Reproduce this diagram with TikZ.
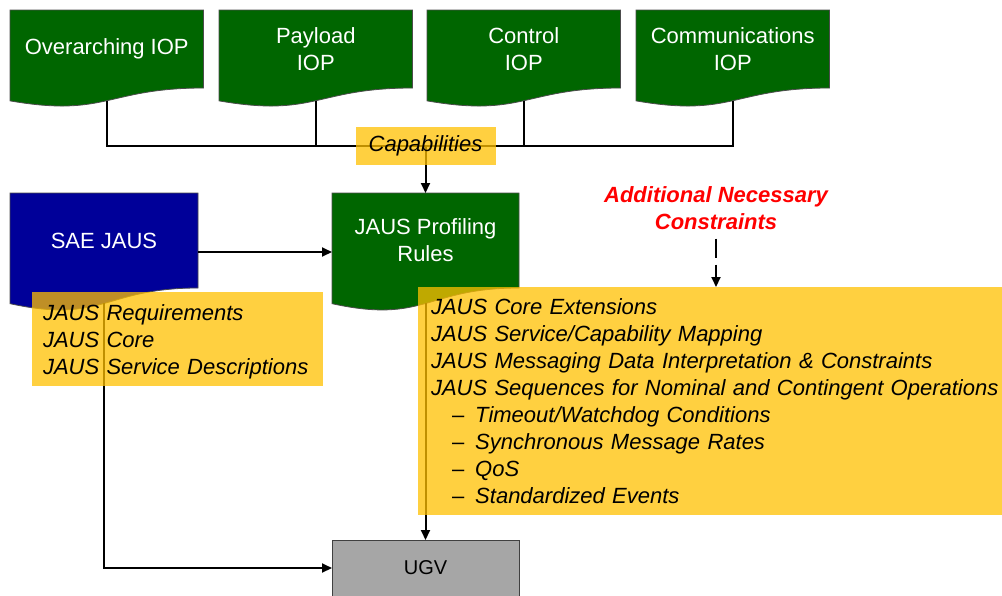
\documentclass[tikz,border=0pt]{standalone}
\usepackage{fontspec}
\setmainfont{Liberation Sans}
\usetikzlibrary{arrows.meta,calc,backgrounds}
\definecolor{iopgreen}{RGB}{0,102,0}
\definecolor{saeblue}{RGB}{0,0,153}
\definecolor{notegold}{RGB}{255,192,0}
\definecolor{ugvgray}{RGB}{166,166,166}
\newcommand\docfill[2]{%
  \begin{pgfonlayer}{background}
  \filldraw[fill=#2,draw=black!70,line width=0.8pt]
    (#1.north west) -- (#1.north east) -- (#1.south east)
    .. controls (#1.south) and ($(#1.north)!1.38!(#1.south)$)
    .. ($(#1.north west)!1.165!(#1.south west)$) -- cycle;
  \end{pgfonlayer}
  \coordinate (#1-foot) at ($(#1.north)!1.163!(#1.south)$);}
\newcommand\subpt[1]{\hspace*{21pt}{\upshape --}\hspace*{11pt}#1}
\begin{document}
\begin{tikzpicture}
[x=1pt,y=-1pt,%
  every node/.style={font=\fontsize{22pt}{27pt}\selectfont,outer sep=0pt},%
  doc/.style={anchor=north west,align=center,text=white,inner sep=0pt},%
  iop/.style={doc,minimum width=193.5pt,minimum height=78pt},%
  std/.style={doc,minimum height=95pt},%
  gold/.style={fill=notegold,fill opacity=0.75,text opacity=1,align=left,
    anchor=north west,inner ysep=0pt,font=\fontsize{22pt}{27pt}\selectfont\itshape},%
  wire/.style={line width=2pt},%
  arr/.style={wire,-{Triangle[length=10pt,width=9pt]}}]
\useasboundingbox (0,0) rectangle (1002,595);
\node[iop] (ovr) at (10,10) {Overarching IOP};
\node[iop] (pay) at (219,10) {Payload\\IOP};
\node[iop] (ctl) at (427,10) {Control\\IOP};
\node[iop] (com) at (636,10) {Communications\\IOP};
\node[std,minimum width=188pt] (sae) at (10,193) {SAE JAUS};
\node[std,minimum width=187pt] (prof) at (332,193) {JAUS Profiling\\Rules};
\docfill{ovr}{iopgreen}
\docfill{pay}{iopgreen}
\docfill{ctl}{iopgreen}
\docfill{com}{iopgreen}
\docfill{sae}{saeblue}
\docfill{prof}{iopgreen}
\node[draw=black!75,fill=ugvgray,line width=1pt,minimum width=187pt,minimum height=56pt,
  anchor=north west,font=\fontsize{20pt}{24pt}\selectfont] (ugv) at (332,540) {UGV};
\coordinate (bus) at (425.5,146);
\draw[wire] (ovr-foot) |- (bus) -| (com-foot);
\draw[wire] (pay-foot) |- (bus) (ctl-foot) |- (bus);
\draw[arr] (bus) -- (prof.north);
\draw[arr] ($(sae.east)+(0,11.5)$) -- ($(prof.west)+(0,11.5)$);
\draw[arr] (prof-foot) -- (ugv.north);
\draw[arr] (sae-foot) |- (ugv.west);
\node[gold,anchor=center,minimum width=140pt,minimum height=38pt,inner xsep=0pt] (cap) at (bus) {Capabilities};
\node[gold,text width=269pt,inner xsep=11pt,minimum height=94pt] (reqs) at (32,292)
  {\rule{0pt}{22pt}JAUS Requirements\\JAUS Core\\JAUS Service Descriptions};
\node[gold,text width=590pt,inner xsep=13pt,minimum height=228pt] (ext) at (418,287)
  {JAUS Core Extensions\\
   JAUS Service/Capability Mapping\\
   JAUS Messaging Data Interpretation \& Constraints\\
   JAUS Sequences for Nominal and Contingent Operations\\
   \subpt{Timeout/Watchdog Conditions}\\
   \subpt{Synchronous Message Rates}\\
   \subpt{QoS}\\
   \subpt{Standardized Events}};
\node[text=red,align=center,inner sep=0pt,
  font=\fontsize{22pt}{27pt}\selectfont\bfseries\itshape] (need) at (716,208)
  {Additional Necessary\\Constraints};
\draw[arr,dash pattern=on 19pt off 7pt,shorten <=9pt] (need.south) -- (need.south |- ext.north);
\end{tikzpicture}
\end{document}
